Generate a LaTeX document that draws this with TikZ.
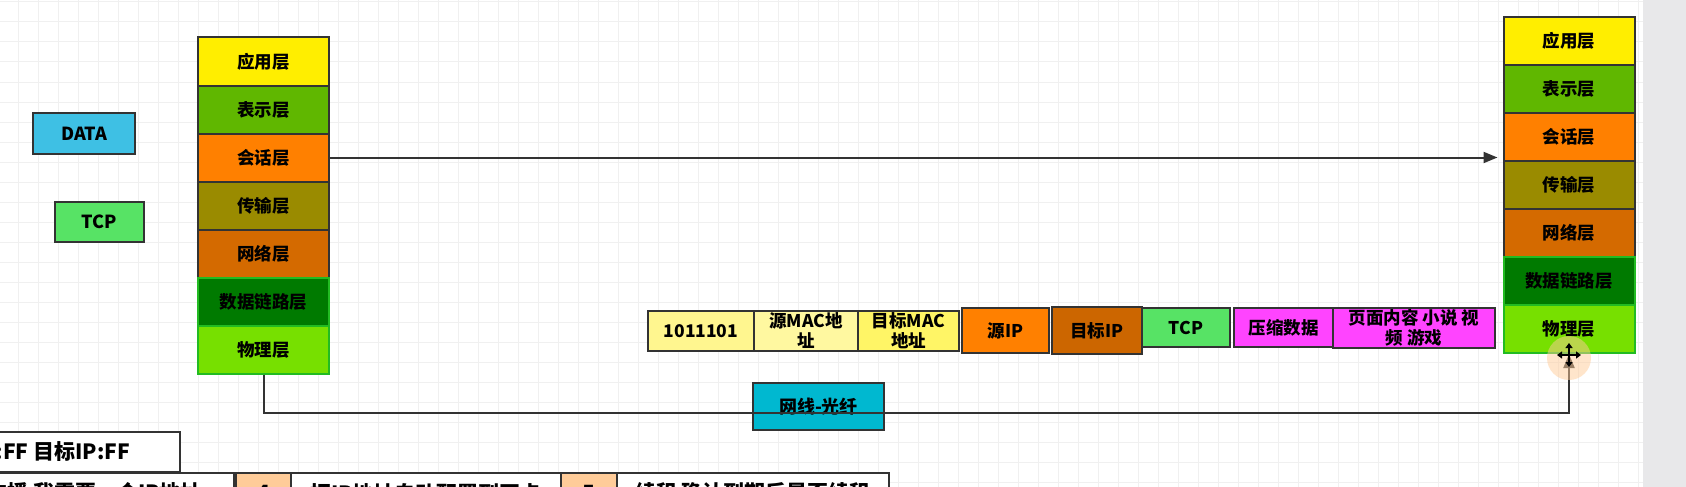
\documentclass[tikz,border=0pt]{standalone}
\usepackage{fontspec}
\setmainfont{Noto Sans CJK SC}
\usetikzlibrary{arrows.meta, positioning}

\definecolor{edgegray}{HTML}{333333}
\definecolor{gridgray}{HTML}{F0F0F0}
\definecolor{panegray}{HTML}{E8E8EA}
\definecolor{appyellow}{HTML}{FFEE00}
\definecolor{presgreen}{HTML}{60B700}
\definecolor{sessorange}{HTML}{FF8000}
\definecolor{transolive}{HTML}{9A8B00}
\definecolor{netorange}{HTML}{D46A00}
\definecolor{linkgreen}{HTML}{007A00}
\definecolor{physgreen}{HTML}{77E000}
\definecolor{greenedge}{HTML}{22BB22}
\definecolor{datablue}{HTML}{3EC0E4}
\definecolor{tcpgreen}{HTML}{57E365}
\definecolor{cablecyan}{HTML}{00B8D0}
\definecolor{bityellow}{HTML}{FFF68F}
\definecolor{macyellow}{HTML}{FFF8A0}
\definecolor{dmacyellow}{HTML}{FFF566}
\definecolor{ipbrown}{HTML}{CC6600}
\definecolor{zipmagenta}{HTML}{FF44FF}
\definecolor{stepbeige}{HTML}{FFCC99}

\tikzset{
  layer/.style={draw=edgegray, line width=2pt, minimum width=131pt, minimum height=48pt,
    inner sep=0pt, font=\fontsize{17.5}{20}\selectfont\bfseries},
  greenlayer/.style={layer, draw=greenedge},
  tag/.style={draw=edgegray, line width=2pt, inner sep=0pt, font=\fontsize{18}{20}\selectfont\bfseries},
  pkt/.style={draw=edgegray, line width=2pt, inner sep=0pt, minimum height=40pt,
    align=center, font=\fontsize{17.5}{20}\selectfont\bfseries},
  note/.style={draw=edgegray, line width=2pt, fill=white, minimum height=40pt,
    font=\fontsize{21}{24}\selectfont\bfseries},
  arr/.style={draw=edgegray, line width=2pt, -{Triangle[length=14pt, width=11pt]}}
}

\begin{document}
\begin{tikzpicture}[x=1pt, y=-1pt]
    \useasboundingbox (0,0) rectangle (1686,487);
    \clip (0,0) rectangle (1686,487);
    % background grid and side pane
    \fill[white] (0,0) rectangle (1643,487);
    \foreach \gx in {18,38,...,1638}
        \draw[gridgray, line width=1pt] (\gx,0) -- (\gx,487);
    \foreach \gy in {2,22,...,482}
        \draw[gridgray, line width=1pt] (0,\gy) -- (1643,\gy);
    \fill[panegray] (1643,0) rectangle (1686,487);

    % sender stack
    \node[layer, fill=appyellow] (appL) at (263.5, 61.5) {应用层};
    \node[layer, fill=presgreen] (presL) at (263.5, 109.5) {表示层};
    \node[layer, fill=sessorange] (sesL) at (263.5, 157.5) {会话层};
    \node[layer, fill=transolive] (transL) at (263.5, 205.5) {传输层};
    \node[layer, fill=netorange] (netL) at (263.5, 253.5) {网络层};
    \node[greenlayer, fill=linkgreen] (linkL) at (263.5, 301.5) {数据链路层};
    \node[greenlayer, fill=physgreen] (phyL) at (263.5, 349.5) {物理层};

    % receiver stack
    \node[layer, fill=appyellow] (appR) at (1569, 41) {应用层};
    \node[layer, fill=presgreen] (presR) at (1569, 89) {表示层};
    \node[layer, fill=sessorange] (sesR) at (1569, 137) {会话层};
    \node[layer, fill=transolive] (transR) at (1569, 185) {传输层};
    \node[layer, fill=netorange] (netR) at (1569, 233) {网络层};
    \node[greenlayer, fill=linkgreen] (linkR) at (1569, 281) {数据链路层};
    \node[greenlayer, fill=physgreen] (phyR) at (1569, 329) {物理层};

    % loose tags
    \node[tag, fill=datablue, minimum width=102pt, minimum height=41pt] (data) at (84, 133.5) {DATA};
    \node[tag, fill=tcpgreen, minimum width=89pt, minimum height=40pt] (tcp) at (99.5, 222) {TCP};

    % frame on the wire
    \node[pkt, fill=bityellow, minimum width=106pt] (bits) at (701, 331) {1011101};
    \node[pkt, fill=macyellow, minimum width=104pt] (srcmac) at (806, 331) {源MAC地\\址};
    \node[pkt, fill=dmacyellow, minimum width=101pt] (dstmac) at (908.5, 331) {目标MAC\\地址};
    \node[pkt, fill=sessorange, minimum width=87pt, minimum height=45pt] (srcip) at (1005.5, 330.5) {源IP};
    \node[pkt, fill=ipbrown, minimum width=90pt, minimum height=47pt] (dstip) at (1097, 330.5) {目标IP};
    \node[pkt, fill=tcpgreen, minimum width=88pt, minimum height=39pt] (tcpseg) at (1186, 327.5) {TCP};
    \node[pkt, fill=zipmagenta, minimum width=99pt, minimum height=39pt] (zip) at (1283.5, 327.5) {压缩数据};
    \node[pkt, fill=zipmagenta, minimum width=162pt] (page) at (1414, 328) {页面内容 小说 视\\频 游戏};

    \node[pkt, fill=cablecyan, minimum width=131pt, minimum height=47pt, font=\fontsize{18}{20}\selectfont\bfseries] (cable) at (818.5, 406.5) {网线-光纤};

    % connectors
    \coordinate (wire) at (700, 413);
    \draw[arr, shorten >=5pt] (sesL.east) -- (sesL.east -| sesR.west);
    \draw[arr] (phyL.south) |- (wire) -| (phyR.south);

    % cursor highlight
    \fill[orange!40, opacity=0.5] (1569, 358) circle (22);
    \draw[black, line width=2pt, {Triangle[length=5pt, width=7pt]}-{Triangle[length=5pt, width=7pt]}] (1557, 355) -- (1581, 355);
    \draw[black, line width=2pt, {Triangle[length=5pt, width=7pt]}-{Triangle[length=5pt, width=7pt]}] (1569, 343) -- (1569, 367);

    % notes at the bottom edge
    \node[note, anchor=east, inner xsep=50pt] (ipff) at (181, 452) {:FF 目标IP:FF};
    \node[note, anchor=north east, minimum width=280pt] (ask) at (235, 472) {广播 我需要一个IP地址};
    \node[note, fill=stepbeige, anchor=north west, minimum width=55pt] (four) at (235, 472) {4};
    \node[note, anchor=north west, minimum width=270pt] (setnic) at (290, 472) {把IP地址自动配置到网卡};
    \node[note, fill=stepbeige, anchor=north west, minimum width=56pt] (five) at (560, 472) {5};
    \node[note, anchor=north west, minimum width=272pt] (renew) at (616, 472) {续租 确认到期后是否续租};
\end{tikzpicture}
\end{document}
